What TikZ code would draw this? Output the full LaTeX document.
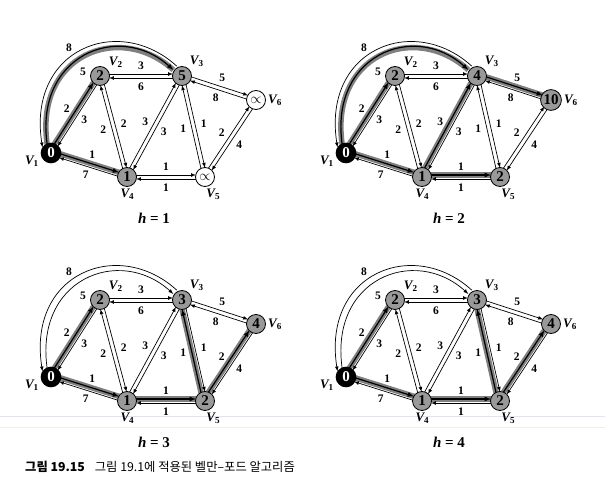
\documentclass[tikz,border=0pt]{standalone}
\usepackage{fontspec}
\setmainfont{Liberation Serif}
\newfontfamily\kr{Noto Sans CJK KR}
\usetikzlibrary{arrows}
\usetikzlibrary{calc}
\usetikzlibrary{backgrounds}

\tikzset{
   nd/.style={circle,draw,line width=0.8pt,minimum size=19pt,inner sep=1pt,font=\fontsize{15}{15}\selectfont\bfseries},
   src/.style={nd,fill=black,text=white,line width=1.6pt},
   dist/.style={nd,fill=black!40},
   inf/.style={fill=white},
   plain/.style={line width=0.7pt,-latex,shorten <=9pt,shorten >=9pt},
   arcx/.style={shorten <=0pt,shorten >=0pt},
   hot/.style={line width=1.2pt,preaction={draw=black!50,line width=5.5pt,-}},
   wt/.style={font=\fontsize{11.5}{11.5}\selectfont\bfseries,inner sep=0pt},
   vlab/.style={font=\fontsize{13}{13}\selectfont\bfseries\itshape,inner sep=0pt},
   hlab/.style={font=\fontsize{15}{15}\selectfont\bfseries},
}
\newcommand\vv[1]{V\textsubscript{\upshape#1}}

\newcommand\duo[4]{%
   \draw[plain,e#1#2/.try] ($(#1)!2pt!90:(#2)$) -- ($(#2)!2pt!-90:(#1)$);
   \draw[plain,e#2#1/.try] ($(#2)!2pt!90:(#1)$) -- ($(#1)!2pt!-90:(#2)$);
   \node[wt] (#1#2w) at ($(#1)!.5!(#2)!10.5pt!90:(#2)$) {#3};
   \node[wt] (#2#1w) at ($(#1)!.5!(#2)!10.5pt!-90:(#2)$) {#4};
}

\newcommand\bellman[6]{%
   \node[src,label={[vlab]192:\vv1}] (v1) at (51,153) {0};
   \node[dist,nv2/.try,label={[vlab]43:\vv2}] (v2) at (100,76) {#1};
   \node[dist,nv3/.try,label={[vlab]50:\vv3}] (v3) at (182,76) {#2};
   \node[dist,nv4/.try,label={[vlab]-88:\vv4}] (v4) at (127,177) {#3};
   \node[dist,nv5/.try,label={[vlab]-84:\vv5}] (v5) at (205,177) {#4};
   \node[dist,nv6/.try,label={[vlab]0:\vv6}] (v6) at (256,100) {#5};
   \node[hlab] (hh) at (154,218) {\textit{h} = #6};
   \begin{pgfonlayer}{background}
   \duo{v1}{v2}{2}{3}
   \duo{v2}{v3}{3}{6}
   \duo{v1}{v4}{1}{7}
   \duo{v4}{v2}{2}{2}
   \duo{v4}{v3}{3}{3}
   \duo{v5}{v3}{1}{1}
   \duo{v3}{v6}{5}{8}
   \duo{v4}{v5}{1}{1}
   \duo{v5}{v6}{2}{4}
   \draw[plain,arcx,arcout/.try] ($(v3)+(-5.3,-9.9)$) .. controls +(-58,-53) and +(-15.5,-98.5) .. ($(v1)+(-8.5,-5.6)$);
   \draw[plain,arcx,arcin/.try] ($(v1)+(-3.5,-6.4)$) .. controls +(-14.5,-91.5) and +(-54,-49) .. ($(v3)+(-8.7,-6.1)$);
   \end{pgfonlayer}
   \node[wt] (arcw8) at (69,48) {8};
   \node[wt] (arcw5) at (83,72) {5};
}

\begin{document}
\begin{tikzpicture}[x=1pt,y=-1pt,label distance=2pt]
\useasboundingbox (0,0) rectangle (605,484);
\draw[blue!20!gray!18,line width=0.6pt] (0,416) -- (605,416);
\draw[blue!20!gray!12,line width=0.5pt] (0,427) -- (605,427);
\begin{scope}[ev1v2/.style=hot,ev1v4/.style=hot,arcin/.style=hot,nv5/.style=inf,nv6/.style=inf]
   \bellman{2}{5}{1}{$\propto$}{$\propto$}{1}
\end{scope}
\begin{scope}[shift={(295,0)},ev1v2/.style=hot,ev1v4/.style=hot,arcin/.style=hot,ev4v3/.style=hot,ev4v5/.style=hot,ev3v6/.style=hot]
   \bellman{2}{4}{1}{2}{10}{2}
\end{scope}
\begin{scope}[shift={(0,224)},ev1v2/.style=hot,ev1v4/.style=hot,ev4v5/.style=hot,ev5v3/.style=hot,ev5v6/.style=hot]
   \bellman{2}{3}{1}{2}{4}{3}
\end{scope}
\begin{scope}[shift={(295,224)},ev1v2/.style=hot,ev1v4/.style=hot,ev4v5/.style=hot,ev5v3/.style=hot,ev5v6/.style=hot]
   \bellman{2}{3}{1}{2}{4}{4}
\end{scope}
\node[anchor=west,inner sep=0pt,font=\kr\fontsize{12.3}{13}\selectfont] (cap) at (25,467) {{\bfseries 그림 19.15}\hspace{10pt}그림 19.1에 적용된 벨만–포드 알고리즘};
\end{tikzpicture}
\end{document}
